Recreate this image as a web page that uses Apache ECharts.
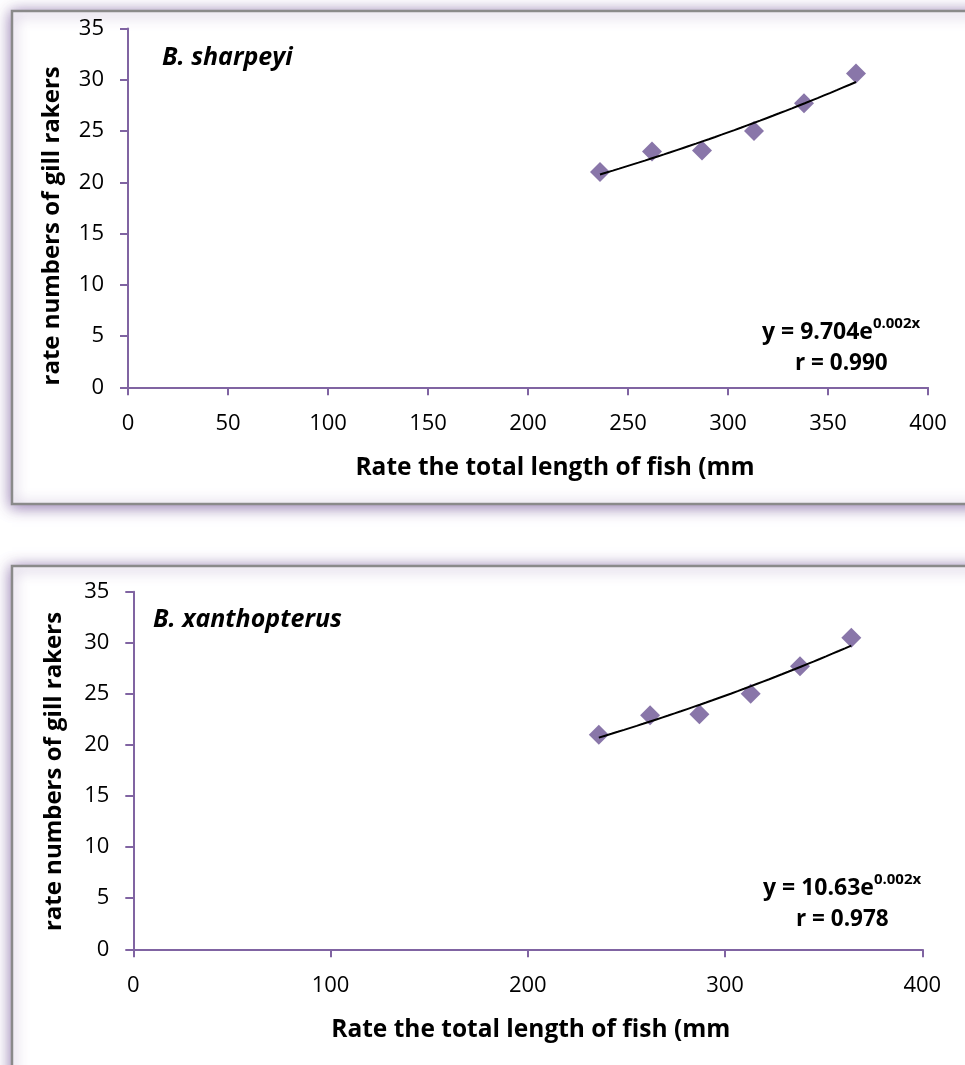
<!DOCTYPE html>
<html>
<head>
<meta charset="utf-8">
<script src="https://cdn.jsdelivr.net/npm/echarts@6/dist/echarts.min.js"></script>
<style>
html,body{margin:0;padding:0;background:#fff;}
#chart{width:965px;height:1065px;}
</style>
</head>
<body>
<div id="chart"></div>
<script>
// ---- data ----
const lengthTop = [236, 262, 287, 313, 338, 364];
const rakersTop = [21.0, 23.0, 23.1, 25.0, 27.7, 30.6];
const lengthBottom = [236, 262, 287, 313, 338, 364];
const rakersBottom = [21.0, 22.9, 23.0, 25.0, 27.7, 30.5];

const yRange = [0, 35, 5];          // min, max, interval
const xRangeTop = [0, 400, 50];
const xRangeBottom = [0, 400, 100];

const speciesTop = "B. sharpeyi";
const speciesBottom = "B. xanthopterus";
const eqTop = ["9.704", "0.002x", "0.990"];
const eqBottom = ["10.63", "0.002x", "0.978"];
const xTitle = "Rate the total length of fish (mm";
const yTitle = "rate numbers of gill rakers";

// exponential least squares trendline (like Excel), from the data
function expTrend(xs, ys) {
  const n = xs.length;
  const ls = ys.map(v => Math.log(v));
  const mx = xs.reduce((a, b) => a + b, 0) / n;
  const ml = ls.reduce((a, b) => a + b, 0) / n;
  let sxy = 0, sxx = 0;
  for (let i = 0; i < n; i++) { sxy += (xs[i] - mx) * (ls[i] - ml); sxx += (xs[i] - mx) ** 2; }
  const b = sxy / sxx, a = Math.exp(ml - b * mx);
  const x0 = Math.min(...xs), x1 = Math.max(...xs);
  const pts = [];
  for (let k = 0; k <= 40; k++) { const x = x0 + (x1 - x0) * k / 40; pts.push([x, a * Math.exp(b * x)]); }
  return pts;
}

const FONT = '"Open Sans"';
const AXIS_COLOR = '#8064a2';
const MARK_COLOR = '#6b5494';

function xAxisCfg(idx, range, shift) {
  return {
    type: 'value', gridIndex: idx, min: range[0], max: range[1], interval: range[2],
    axisLine: { show: true, onZero: false, lineStyle: { color: AXIS_COLOR, width: 2 } },
    axisTick: { show: true, length: 8, lineStyle: { color: AXIS_COLOR, width: 2 } },
    splitLine: { show: false },
    axisLabel: { color: '#000', fontFamily: FONT, fontSize: 22, margin: 25 },
    name: xTitle, nameLocation: 'middle', nameGap: 68,
    nameTextStyle: { color: '#000', fontFamily: FONT, fontWeight: 'bold', fontSize: 24.5, padding: [0, 0, 0, shift] }
  };
}
function yAxisCfg(idx, gap, shift) {
  return {
    type: 'value', gridIndex: idx, min: yRange[0], max: yRange[1], interval: yRange[2],
    axisLine: { show: true, onZero: false, lineStyle: { color: AXIS_COLOR, width: 2 } },
    axisTick: { show: true, length: 8, lineStyle: { color: AXIS_COLOR, width: 2 } },
    splitLine: { show: false },
    axisLabel: { color: '#000', fontFamily: FONT, fontSize: 22, margin: 24 },
    name: yTitle, nameLocation: 'middle', nameGap: gap, nameRotate: 90,
    nameTextStyle: { color: '#000', fontFamily: FONT, fontWeight: 'bold', fontSize: 24, padding: [0, shift, 0, 0] }
  };
}

function frame(top, height) {
  return {
    type: 'rect', z: -100, silent: true,
    shape: { x: 12, y: top, width: 1000, height: height },
    style: { fill: '#fff', stroke: '#8a8a8a', lineWidth: 2.5,
      shadowBlur: 14, shadowColor: 'rgba(128,100,162,0.85)', shadowOffsetX: 0, shadowOffsetY: 2 }
  };
}
function eqText(x, y, eq) {
  return {
    type: 'text', z: 100, x: x, y: y,
    style: {
      text: '{m|y = ' + eq[0] + 'e}{s|' + eq[1] + '}\n{r|r = ' + eq[2] + '}',
      rich: {
        m: { fontFamily: FONT, fontWeight: 'bold', fontSize: 23, fill: '#000', lineHeight: 32 },
        s: { fontFamily: FONT, fontWeight: 'bold', fontSize: 15, fill: '#000', verticalAlign: 'top', lineHeight: 20 },
        r: { fontFamily: FONT, fontWeight: 'bold', fontSize: 22.5, fill: '#000', lineHeight: 32, padding: [0, 0, 0, 33] }
      }
    }
  };
}

const chart = echarts.init(document.getElementById('chart'), null, { renderer: 'canvas' });
chart.setOption({
  backgroundColor: '#fff',
  animation: false,
  grid: [
    { left: 128, width: 800, top: 28.5, height: 358.8 },
    { left: 133.3, width: 789, top: 591.7, height: 357.6 }
  ],
  xAxis: [xAxisCfg(0, xRangeTop, 54), xAxisCfg(1, xRangeBottom, 6)],
  yAxis: [yAxisCfg(0, 64, 36), yAxisCfg(1, 67, 2)],
  series: [
    { type: 'scatter', xAxisIndex: 0, yAxisIndex: 0, symbol: 'diamond', symbolSize: 20,
      itemStyle: { color: MARK_COLOR }, data: lengthTop.map((x, i) => [x, rakersTop[i]]), z: 3 },
    { type: 'line', xAxisIndex: 0, yAxisIndex: 0, showSymbol: false, symbol: 'none',
      lineStyle: { color: '#000', width: 2 }, data: expTrend(lengthTop, rakersTop), z: 4 },
    { type: 'scatter', xAxisIndex: 1, yAxisIndex: 1, symbol: 'diamond', symbolSize: 20,
      itemStyle: { color: MARK_COLOR }, data: lengthBottom.map((x, i) => [x, rakersBottom[i]]), z: 3 },
    { type: 'line', xAxisIndex: 1, yAxisIndex: 1, showSymbol: false, symbol: 'none',
      lineStyle: { color: '#000', width: 2 }, data: expTrend(lengthBottom, rakersBottom), z: 4 }
  ],
  graphic: [
    frame(11, 493),
    frame(566, 600),
    { type: 'text', z: 100, x: 162, y: 45,
      style: { text: speciesTop, fontFamily: FONT, fontWeight: 'bold', fontStyle: 'italic', fontSize: 25, fill: '#000' } },
    { type: 'text', z: 100, x: 153, y: 607,
      style: { text: speciesBottom, fontFamily: FONT, fontWeight: 'bold', fontStyle: 'italic', fontSize: 25, fill: '#000' } },
    eqText(762, 316, eqTop),
    eqText(763, 872, eqBottom)
  ]
});
</script>
</body>
</html>
